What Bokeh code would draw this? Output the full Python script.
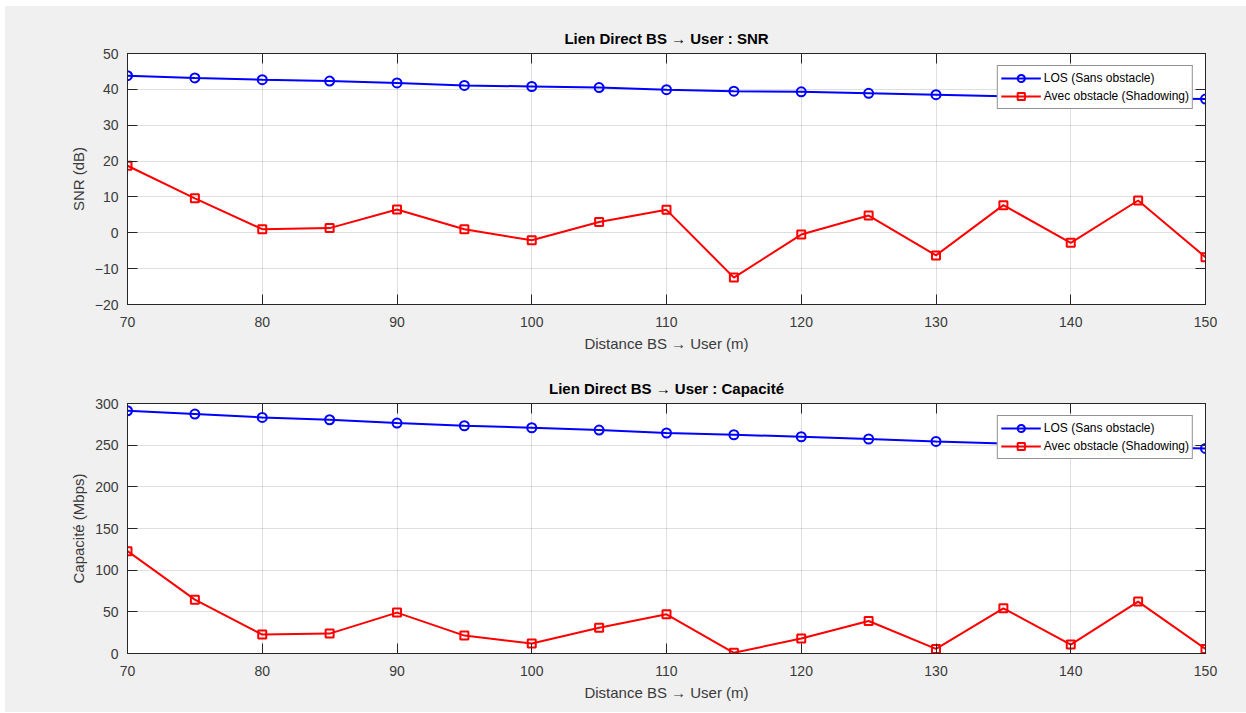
from bokeh.plotting import figure
from bokeh.layouts import column
from bokeh.models import (LinearAxis, SingleIntervalTicker, CustomJSTickFormatter,
                          Range1d, Legend, LegendItem)
from bokeh.embed import file_html
from bokeh.resources import INLINE

# ---------------- data ----------------
distance = [70, 75, 80, 85, 90, 95, 100, 105, 110, 115, 120, 125, 130, 135, 140, 145, 150]
snr_los = [43.8, 43.2, 42.7, 42.3, 41.8, 41.1, 40.8, 40.5, 39.9, 39.5, 39.3, 38.9, 38.5, 38.1, 37.8, 37.5, 37.3]
snr_shadow = [18.7, 9.6, 1.0, 1.3, 6.5, 1.0, -2.1, 3.0, 6.4, -12.5, -0.5, 4.8, -6.3, 7.7, -2.8, 9.0, -6.8]
cap_los = [291.3, 287.3, 283.3, 280.5, 276.5, 273.3, 270.9, 268.1, 264.6, 262.5, 260.1, 257.4, 254.5, 252.0, 249.5, 247.8, 246.1]
cap_shadow = [122.8, 64.6, 22.7, 23.9, 49.1, 21.5, 12.0, 30.9, 47.0, 0.8, 18.0, 39.0, 5.5, 54.2, 10.7, 62.3, 5.5]

label_los = "LOS (Sans obstacle)"
label_shadow = "Avec obstacle (Shadowing)"
x_label = "Distance BS \u2192 User (m)"

FONT = "Liberation Sans"
AX = "#262626"
BG = "#f0f0f0"


def make_panel(title, ylabel, y_los, y_sh, y_range, y_step, height, b_top, b_bottom):
    p = figure(width=1241, height=height, output_backend="svg", toolbar_location=None,
               x_range=Range1d(70, 150), y_range=Range1d(*y_range),
               min_border_left=122, min_border_right=41,
               min_border_top=b_top, min_border_bottom=b_bottom,
               background_fill_color="white", border_fill_color=BG,
               outline_line_color=AX, outline_line_width=1,
               styles={"background-color": BG})
    p.title.text = title
    p.title.align = "center"
    p.title.text_font = FONT
    p.title.text_font_size = "15px"
    p.title.text_font_style = "bold"
    p.title.text_color = "#000000"
    p.title.standoff = 5

    xt = SingleIntervalTicker(interval=10)
    yt = SingleIntervalTicker(interval=y_step)
    p.xaxis.ticker = xt
    p.yaxis.ticker = yt

    for ax in (p.xaxis[0], p.yaxis[0]):
        ax.major_tick_in = 10
        ax.major_tick_out = 0
        ax.minor_tick_line_color = None
        ax.axis_line_color = AX
        ax.major_tick_line_color = AX
        ax.major_label_text_font = FONT
        ax.major_label_text_font_size = "14px"
        ax.major_label_text_color = "#3a3a3a"
        ax.axis_label_text_font = FONT
        ax.axis_label_text_font_size = "15px"
        ax.axis_label_text_font_style = "normal"
        ax.axis_label_text_color = "#3a3a3a"
    p.xaxis.axis_label = x_label
    p.xaxis.major_label_standoff = 8
    p.xaxis.axis_label_standoff = 5
    p.yaxis.axis_label = ylabel
    p.yaxis.major_label_standoff = 5
    p.yaxis.axis_label_standoff = 5

    # box ticks on top and right (no labels)
    blank = CustomJSTickFormatter(code="return ''")
    for loc, tk in (("above", xt), ("right", yt)):
        a = LinearAxis(ticker=tk, formatter=blank, major_tick_in=10, major_tick_out=0,
                       minor_tick_line_color=None, axis_line_color=AX,
                       major_tick_line_color=AX, major_label_standoff=0,
                       major_label_text_font_size="1px")
        p.add_layout(a, loc)

    p.grid.grid_line_color = AX
    p.grid.grid_line_alpha = 0.15
    p.xgrid.ticker = xt
    p.ygrid.ticker = yt

    l1 = p.line(distance, y_los, line_color="#0000ff", line_width=2)
    m1 = p.scatter(distance, y_los, marker="circle", size=9, fill_color=None,
                   line_color="#0000ff", line_width=2)
    l2 = p.line(distance, y_sh, line_color="#ff0000", line_width=2)
    m2 = p.scatter(distance, y_sh, marker="square", size=8, fill_color=None,
                   line_color="#ff0000", line_width=2)

    leg = Legend(items=[LegendItem(label=label_los, renderers=[l1, m1]),
                        LegendItem(label=label_shadow, renderers=[l2, m2])],
                 location="top_right", margin=12, padding=3, spacing=0,
                 glyph_width=40, glyph_height=18, label_height=18,
                 label_standoff=3, label_text_font=FONT, label_text_font_size="12px",
                 label_text_color="#000000",
                 border_line_color=AX, border_line_width=1,
                 background_fill_color="white", background_fill_alpha=1)
    p.add_layout(leg, "center")
    return p


p1 = make_panel("Lien Direct BS \u2192 User : SNR", "SNR (dB)", snr_los, snr_shadow,
                (-20, 50), 10, 350, 47, 52)
p2 = make_panel("Lien Direct BS \u2192 User : Capacit\u00e9", "Capacit\u00e9 (Mbps)", cap_los, cap_shadow,
                (0, 300), 50, 356, 47, 59)

lay = column(p1, p2, spacing=0, margin=(6, 0, 0, 5), styles={"background-color": BG})
open("out.html", "w").write(file_html(lay, INLINE))
